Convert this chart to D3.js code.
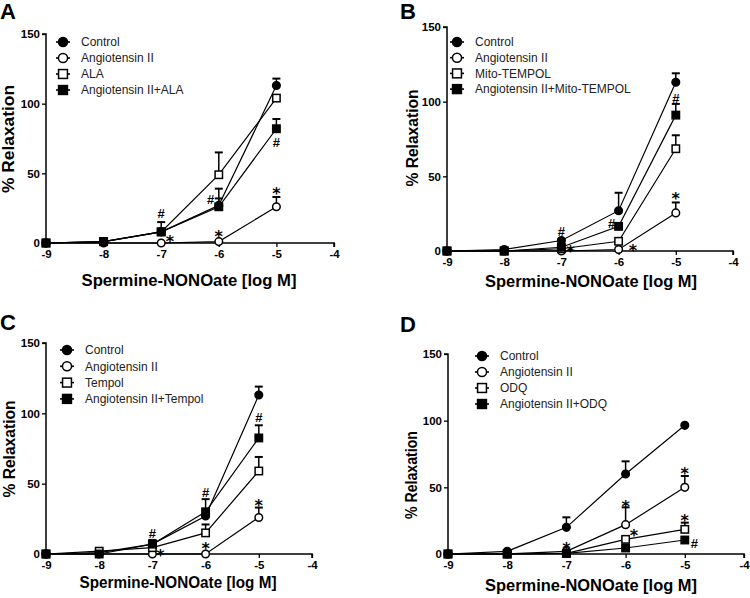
<!DOCTYPE html>
<html><head><meta charset="utf-8">
<script src="https://cdn.jsdelivr.net/npm/d3@7"></script>
<style>
html,body{margin:0;padding:0;background:#fff;}
svg{display:block;font-family:"Liberation Sans",Arial,sans-serif;}
</style></head>
<body>
<svg id="chart" width="750" height="598"></svg>
<script>
// ---------- DATA ----------
const doses = [-9, -8, -7, -6, -5];
const xTickValues = [-9, -8, -7, -6, -5, -4];
const yTickValues = [0, 50, 100, 150];
const xTitle = "Spermine-NONOate [log M]";
const yTitle = "% Relaxation";

// Panel A
const legendA = ["Control", "Angiotensin II", "ALA", "Angiotensin II+ALA"];
const aControl = [0, 1, 8, 27, 113];
const aControlErr = [0, 0, 0, 5, 5];
const aAng = [0, 0, 0, 1, 26];
const aAngErr = [0, 0, 0, 0, 7];
const aAla = [0, 1, 8, 49, 104];
const aAlaErr = [0, 0, 0, 16, 0];
const aAngAla = [0, 1, 8, 26, 82];
const aAngAlaErr = [0, 0, 7, 13, 7];
const aMarks = [["#", -7, 21.5], ["*", -6.85, 3.6], ["*", -6, 7.2], ["#", -6.14, 31], ["*", -5, 38], ["#", -5, 72.5]];

// Panel B
const legendB = ["Control", "Angiotensin II", "Mito-TEMPOL", "Angiotensin II+Mito-TEMPOL"];
const bControl = [0, 1, 7, 27, 113];
const bControlErr = [0, 0, 1, 12, 6];
const bAng = [0, 0, 0, 1, 25.5];
const bAngErr = [0, 0, 0, 0, 7];
const bMito = [0, 0, 1.5, 6.5, 68.5];
const bMitoErr = [0, 0, 0, 0, 9];
const bAngMito = [0, 0, 2.5, 16.5, 91];
const bAngMitoErr = [0, 0, 0, 0, 7.5];
const bMarks = [["#", -7, 13.2], ["*", -6.84, 1.8], ["#", -6.12, 18.6], ["*", -5.75, 2.5], ["#", -5, 102], ["*", -5, 37.4]];

// Panel C
const legendC = ["Control", "Angiotensin II", "Tempol", "Angiotensin II+Tempol"];
const cControl = [0, 1, 7, 27, 113];
const cControlErr = [0, 0, 0, 0, 6];
const cAng = [0, 0, 0, 0, 26];
const cAngErr = [0, 0, 0, 0, 7];
const cTempol = [0, 2, 4.5, 15, 59];
const cTempolErr = [0, 0, 0, 6, 10];
const cAngTempol = [0, 0, 7, 30, 82.5];
const cAngTempolErr = [0, 0, 3, 9, 9];
const cMarks = [["#", -7, 15], ["*", -6.85, 1.4], ["#", -6, 44], ["*", -6, 6.4], ["#", -5, 97], ["*", -5, 37]];

// Panel D
const legendD = ["Control", "Angiotensin II", "ODQ", "Angiotensin II+ODQ"];
const dControl = [0, 2, 20, 60, 96.5];
const dControlErr = [0, 0, 7.5, 9.5, 0];
const dAng = [0, 0, 2, 22, 50];
const dAngErr = [0, 0, 0, 13, 8.5];
const dOdq = [0, 0, 0.5, 11, 18.5];
const dOdqErr = [0, 0, 0, 2, 5];
const dAngOdq = [0, 0, 0.5, 4.5, 10.5];
const dAngOdqErr = [0, 0, 0, 0, 0];
const dMarks = [["*", -7, 6.75], ["*", -6, 38.3], ["*", -5.86, 16.5], ["*", -5, 63], ["*", -5, 27.8], ["#", -4.84, 8.25]];

// ---------- LAYOUT ----------
const markerTypes = ["circleFilled", "circleOpen", "squareOpen", "squareFilled"];
const panels = [
  {label: "A", lx: 0, ly: 19, x0: 46, x1: 334, yTop: 34, yBot: 243,
   legend: legendA, lgX: 63, lgY: 42, lgDy: 16,
   series: [[aControl, aControlErr], [aAng, aAngErr], [aAla, aAlaErr], [aAngAla, aAngAlaErr]], marks: aMarks,
   ytX: 14, ytY: 139, ytLen: 108, xtX: 189, xtY: 286, xtLen: 215},
  {label: "B", lx: 400, ly: 19, x0: 447, x1: 733, yTop: 27, yBot: 251,
   legend: legendB, lgX: 457, lgY: 42, lgDy: 15.7,
   series: [[bControl, bControlErr], [bAng, bAngErr], [bMito, bMitoErr], [bAngMito, bAngMitoErr]], marks: bMarks,
   ytX: 418, ytY: 138, ytLen: 97, xtX: 591, xtY: 287, xtLen: 212},
  {label: "C", lx: 0, ly: 330, x0: 46, x1: 312, yTop: 343, yBot: 554,
   legend: legendC, lgX: 67, lgY: 350, lgDy: 16.3,
   series: [[cControl, cControlErr], [cAng, cAngErr], [cTempol, cTempolErr], [cAngTempol, cAngTempolErr]], marks: cMarks,
   ytX: 15, ytY: 449, ytLen: 97, xtX: 178, xtY: 588, xtLen: 197},
  {label: "D", lx: 400, ly: 332, x0: 448, x1: 744, yTop: 354, yBot: 554,
   legend: legendD, lgX: 482, lgY: 356, lgDy: 16,
   series: [[dControl, dControlErr], [dAng, dAngErr], [dOdq, dOdqErr], [dAngOdq, dAngOdqErr]], marks: dMarks,
   ytX: 417, ytY: 475, ytLen: 88, xtX: 591, xtY: 591, xtLen: 212}
];

const svg = d3.select("#chart");

function drawMarker(g, type, cx, cy, k) {
  const r = 3.8 * k, s = 7.4 * k;
  if (type.startsWith("circle")) {
    g.append("circle").attr("cx", cx).attr("cy", cy).attr("r", r)
      .attr("fill", type === "circleFilled" ? "#000" : "#fff")
      .attr("stroke", "#000").attr("stroke-width", 1.5);
  } else {
    g.append("rect").attr("x", cx - s / 2).attr("y", cy - s / 2).attr("width", s).attr("height", s)
      .attr("fill", type === "squareFilled" ? "#000" : "#fff")
      .attr("stroke", "#000").attr("stroke-width", 1.5);
  }
}

panels.forEach(p => {
  const x = d3.scaleLinear().domain([-9, -4]).range([p.x0, p.x1]);
  const y = d3.scaleLinear().domain([0, 150]).range([p.yBot, p.yTop]);
  const g = svg.append("g");

  g.append("text").attr("x", p.lx).attr("y", p.ly).attr("font-size", 22).attr("font-weight", "bold").text(p.label);

  const yAxis = d3.axisLeft(y).tickValues(yTickValues).tickSize(4).tickPadding(2).tickFormat(d3.format("d"));
  const xAxis = d3.axisBottom(x).tickValues(xTickValues).tickSize(4).tickPadding(3).tickFormat(d => d);
  const ya = g.append("g").attr("transform", `translate(${x(-9)},0)`).call(yAxis);
  const xa = g.append("g").attr("transform", `translate(0,${y(0)})`).call(xAxis);
  [ya, xa].forEach(a => {
    a.select(".domain").attr("stroke", "#000").attr("stroke-width", 1.5);
    a.selectAll(".tick line").attr("stroke", "#000").attr("stroke-width", 1.3);
    a.selectAll(".tick text").attr("font-size", 11.5).attr("font-weight", "bold")
      .attr("font-family", "'Liberation Sans', Arial, sans-serif").attr("fill", "#000");
  });
  ya.select(".domain").attr("d", `M-4,${y(150)}H0V${y(0)}`);
  xa.select(".domain").attr("d", `M${x(-9)},0H${x(-4)}V4`);

  g.append("text").attr("transform", `translate(${p.ytX},${p.ytY}) rotate(-90)`)
    .attr("text-anchor", "middle").attr("font-size", 16.5).attr("font-weight", "bold")
    .attr("textLength", p.ytLen).attr("lengthAdjust", "spacingAndGlyphs").text(yTitle);
  g.append("text").attr("x", p.xtX).attr("y", p.xtY)
    .attr("text-anchor", "middle").attr("font-size", 16.5).attr("font-weight", "bold")
    .attr("textLength", p.xtLen).attr("lengthAdjust", "spacingAndGlyphs").text(xTitle);

  const line = d3.line().x((d, i) => x(doses[i])).y(d => y(d));

  p.series.forEach(([vals]) => {
    g.append("path").attr("d", line(vals)).attr("fill", "none").attr("stroke", "#000").attr("stroke-width", 1.2);
  });
  p.series.forEach(([vals, errs]) => {
    vals.forEach((v, i) => {
      const e = errs[i];
      if (e > 0) {
        g.append("line").attr("x1", x(doses[i])).attr("x2", x(doses[i]))
          .attr("y1", y(v)).attr("y2", y(v + e)).attr("stroke", "#000").attr("stroke-width", 1.5);
        g.append("line").attr("x1", x(doses[i]) - 4).attr("x2", x(doses[i]) + 4)
          .attr("y1", y(v + e)).attr("y2", y(v + e)).attr("stroke", "#000").attr("stroke-width", 2);
      }
    });
  });
  p.series.forEach(([vals], si) => {
    vals.forEach((v, i) => drawMarker(g, markerTypes[si], x(doses[i]), y(v), 1));
  });

  p.marks.forEach(([sym, dx, dv]) => {
    const isStar = sym === "*";
    const fs = isStar ? 16 : 13;
    const off = isStar ? 0.55 * fs : 0.36 * fs;
    g.append("text").attr("x", x(dx)).attr("y", y(dv) + off)
      .attr("text-anchor", "middle").attr("font-size", fs).attr("font-weight", "bold")
      .attr("font-family", isStar ? "'DejaVu Sans', sans-serif" : "'Liberation Sans', Arial, sans-serif")
      .text(sym);
  });

  p.legend.forEach((name, i) => {
    const cy = p.lgY + i * p.lgDy;
    g.append("line").attr("x1", p.lgX - 7).attr("x2", p.lgX + 7).attr("y1", cy).attr("y2", cy)
      .attr("stroke", "#000").attr("stroke-width", 1.6);
    drawMarker(g, markerTypes[i], p.lgX, cy, 1.2);
    g.append("text").attr("x", p.lgX + 18).attr("y", cy + 4.2).attr("font-size", 12)
      .attr("fill", "#222").text(name);
  });
});
</script>
</body></html>
